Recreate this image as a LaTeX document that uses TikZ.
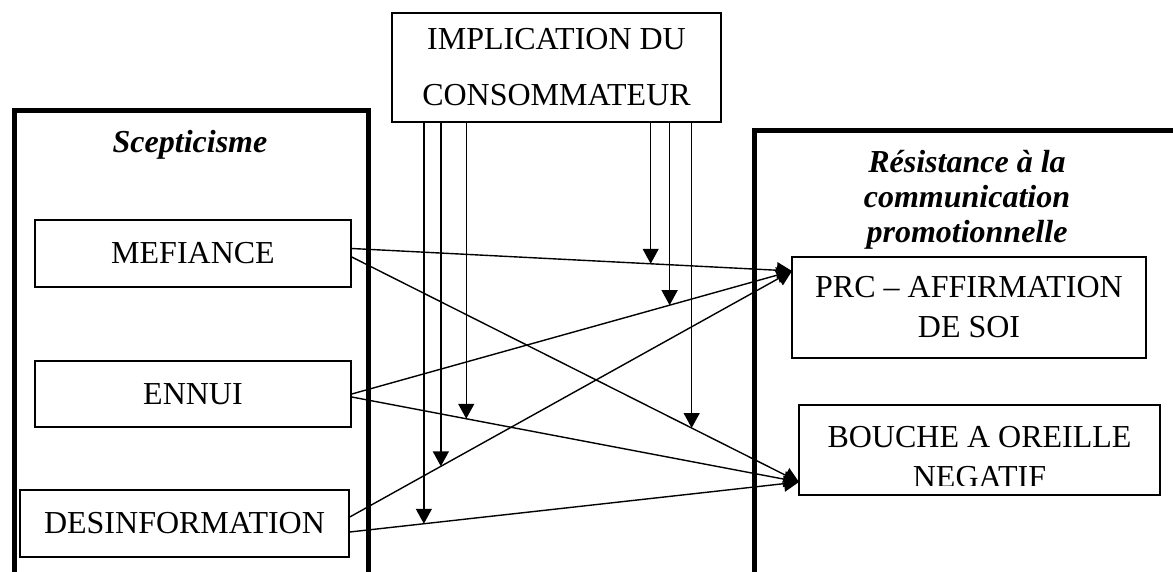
\documentclass[tikz,border=0pt]{standalone}
\usepackage{fontspec}
\setmainfont{Liberation Serif}
\usetikzlibrary{arrows.meta,calc}

\tikzset{
  box/.style={draw, line width=1.5pt, inner sep=0pt, align=center,
    font=\fontsize{32}{40}\selectfont},
  frame/.style={line width=5pt},
  title/.style={inner sep=0pt, align=center,
    font=\fontsize{32}{35}\selectfont\bfseries\itshape},
  arr/.style={line width=1.4pt, -{Triangle[length=15pt,width=16pt]}},
}

\begin{document}
\begin{tikzpicture}[x=1pt, y=-1pt]
    \useasboundingbox (0,0) rectangle (1173,572);
    \clip (0,0) rectangle (1173,572);

    % Frames
    \draw[frame] (14.5,600) |- (368.5,111) -- (368.5,600);
    \draw[frame] (754.5,600) |- (1200,130.5);

    % Titles
    \node[title] (scep) at (190,145) {Scepticisme};
    \node[title] (res) at (967,200) {R\'esistance \`a la\\communication\\promotionnelle};

    % Boxes
    \node[box, minimum width=316pt, minimum height=67pt] (mef) at (193,253.5) {MEFIANCE};
    \node[box, minimum width=316pt, minimum height=66pt] (ennui) at (193,394) {ENNUI};
    \node[box, minimum width=329pt, minimum height=67pt] (desinfo) at (184.5,523.5) {DESINFORMATION};
    \node[box, minimum width=329pt, minimum height=109pt,
      font=\fontsize{32}{56}\selectfont] (impl) at (556.5,67.5) {IMPLICATION DU\\CONSOMMATEUR};
    \node[box, minimum width=354pt, minimum height=101pt] (prc) at (969,307.5) {PRC -- AFFIRMATION\\DE SOI};
    \node[box, minimum width=361pt, minimum height=90pt] (bao) at (979.5,450) {};
    \begin{scope}
        \clip (799,405) rectangle (1160,485);
        \node[box, draw=none] (baotext) at (979.5,457) {BOUCHE A OREILLE\\NEGATIF};
    \end{scope}

    % Entry points
    \coordinate (prcin) at (792,271);
    \coordinate (baoin) at (799,482);

    % Direct effects
    \draw[arr] ($(mef.east)+(0,-5)$) -- coordinate[pos=0.679] (v1) (prcin);
    \draw[arr] (ennui.east) -- coordinate[pos=0.722] (v2) (prcin);
    \draw[arr] ($(desinfo.east)+(0,-6.5)$) -- coordinate[pos=0.206] (v3) (prcin);
    \draw[arr] ($(mef.east)+(0,3.5)$) -- coordinate[pos=0.760] (v4) (baoin);
    \draw[arr] ($(ennui.east)+(0,3)$) -- coordinate[pos=0.256] (v5) (baoin);
    \draw[arr] ($(desinfo.east)+(0,8.5)$) -- coordinate[pos=0.165] (v6) (baoin);

    % Moderating effects
    \foreach \v in {v1,v2,v3,v4,v5,v6}
        \draw[arr] (\v |- impl.south) -- (\v);
\end{tikzpicture}
\end{document}
